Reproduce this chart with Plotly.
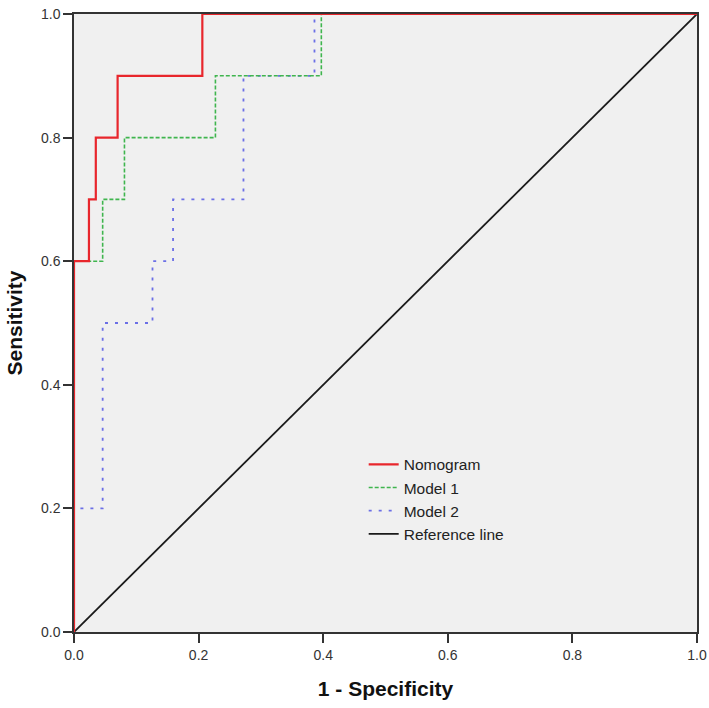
import plotly.graph_objects as go

# ROC step coordinates (1 - specificity, sensitivity)
nomogram_fpr = [0.0, 0.0, 0.024, 0.024, 0.035, 0.035, 0.070, 0.070, 0.206, 0.206, 1.0]
nomogram_tpr = [0.0, 0.6, 0.6, 0.7, 0.7, 0.8, 0.8, 0.9, 0.9, 1.0, 1.0]

model1_fpr = [0.0, 0.0, 0.046, 0.046, 0.081, 0.081, 0.227, 0.227, 0.397, 0.397, 1.0]
model1_tpr = [0.0, 0.6, 0.6, 0.7, 0.7, 0.8, 0.8, 0.9, 0.9, 1.0, 1.0]

model2_fpr = [0.0, 0.0, 0.046, 0.046, 0.126, 0.126, 0.159, 0.159, 0.272, 0.272, 0.386, 0.386, 1.0]
model2_tpr = [0.0, 0.2, 0.2, 0.5, 0.5, 0.6, 0.6, 0.7, 0.7, 0.9, 0.9, 1.0, 1.0]

ref_x = [0.0, 1.0]
ref_y = [0.0, 1.0]

tick_vals = [0.0, 0.2, 0.4, 0.6, 0.8, 1.0]
tick_text = ["0.0", "0.2", "0.4", "0.6", "0.8", "1.0"]

fig = go.Figure()
fig.add_trace(go.Scatter(x=ref_x, y=ref_y, mode="lines", name="Reference line",
                         line=dict(color="#1a1a1a", width=1.8), legendrank=4))
fig.add_trace(go.Scatter(x=model2_fpr, y=model2_tpr, mode="lines", name="Model 2",
                         line=dict(color="#6b6fe6", width=1.8, dash="3px,7px"), legendrank=3))
fig.add_trace(go.Scatter(x=model1_fpr, y=model1_tpr, mode="lines", name="Model 1",
                         line=dict(color="#3fb54e", width=1.6, dash="4px,2px"), legendrank=2))
fig.add_trace(go.Scatter(x=nomogram_fpr, y=nomogram_tpr, mode="lines", name="Nomogram",
                         line=dict(color="#e8262c", width=2.2), legendrank=1))

axis_common = dict(
    range=[0, 1], tickvals=tick_vals, ticktext=tick_text, automargin=False,
    showgrid=False, zeroline=False, showline=True, linecolor="#333333", linewidth=1.5,
    mirror=True, ticks="outside", ticklen=9, tickcolor="#333333", tickwidth=1.5,
    tickfont=dict(family="Liberation Sans, Arial", size=14, color="#333333"),
)

fig.update_layout(
    width=709, height=708,
    margin=dict(l=74, r=12, t=14, b=76),
    paper_bgcolor="white", plot_bgcolor="#f0f0f0",
    showlegend=True,
    legend=dict(x=0.465, y=0.298, xanchor="left", yanchor="top",
                bgcolor="rgba(0,0,0,0)", borderwidth=0,
                font=dict(family="Liberation Sans, Arial", size=15.5, color="#222222"),
                tracegroupgap=0, itemwidth=30, traceorder="normal"),
    xaxis=dict(**axis_common, title=dict(text="<b>1 - Specificity</b>", standoff=20,
               font=dict(family="Liberation Sans, Arial", size=21, color="#111111"))),
    yaxis=dict(**axis_common, title=dict(text="<b>Sensitivity</b>", standoff=13,
               font=dict(family="Liberation Sans, Arial", size=21, color="#111111"))),
)

fig.write_html("out.html", config={"displayModeBar": False},
               post_script="document.body.style.margin='0';document.body.style.overflow='hidden';")
